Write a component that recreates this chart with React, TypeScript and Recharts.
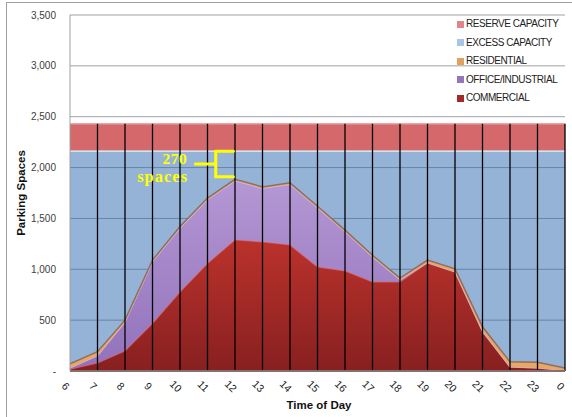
import React from 'react';
import { ComposedChart, Area, XAxis, YAxis, CartesianGrid, ReferenceLine, ReferenceDot } from 'recharts';

const hours = [6, 7, 8, 9, 10, 11, 12, 13, 14, 15, 16, 17, 18, 19, 20, 21, 22, 23, 24];
const commercial = [20, 80, 200, 470, 780, 1060, 1290, 1270, 1240, 1025, 985, 878, 878, 1065, 975, 390, 40, 30, 5];
const office = [10, 70, 280, 605, 625, 625, 580, 525, 595, 580, 385, 245, 20, 0, 0, 0, 0, 0, 0];
const residential = [40, 40, 20, 15, 15, 15, 15, 15, 15, 15, 15, 15, 15, 25, 30, 45, 50, 55, 25];
const effectiveCapacity = 2160;
const totalCapacity = 2430;
const yTicks = [0, 500, 1000, 1500, 2000, 2500, 3000, 3500];

const legendItems = [
  { label: 'RESERVE CAPACITY', color: '#e2858a' },
  { label: 'EXCESS CAPACITY', color: '#aac5e4' },
  { label: 'RESIDENTIAL', color: '#e39f5e' },
  { label: 'OFFICE/INDUSTRIAL', color: '#9576b8' },
  { label: 'COMMERCIAL', color: '#a3282a' },
];

const data = hours.map((h, i) => ({
  hour: h,
  commercial: commercial[i],
  office: office[i],
  residential: residential[i],
  effective: effectiveCapacity,
  reserve: [effectiveCapacity, totalCapacity],
}));

const FONT = '"Liberation Sans", Arial, sans-serif';

const XTick = (props: any) => {
  const { x, y, payload } = props;
  const cx = x - 4;
  const cy = y + 15;
  return (
    <text x={cx} y={cy} transform={`rotate(45 ${cx} ${cy})`} textAnchor="middle" dominantBaseline="central" fontSize={10.5} fill="#1a1a1a" fontFamily={FONT}>
      {String(payload.value % 24)}
    </text>
  );
};

const TextShape = (text: string, size: number, spacing: number) => (props: any) => (
  <text x={props.cx} y={props.cy} textAnchor="middle" fontSize={size} fontWeight="bold" fill="#ffff00" letterSpacing={spacing} fontFamily='"Liberation Serif", "Times New Roman", serif'>
    {text}
  </text>
);

export default function App() {
  const brace = { stroke: '#ffff00', strokeWidth: 3, strokeLinecap: 'round' as const };
  return (
    <div style={{ position: 'absolute', left: 0, top: 0, width: 572, height: 417, background: '#fff', overflow: 'hidden', fontFamily: FONT }}>
      <div style={{ position: 'absolute', left: 6, top: 2, width: 570, height: 430, borderLeft: '1px solid #a0a0a0', borderTop: '1px solid #a0a0a0', borderRight: '1px solid #a0a0a0' }} />
      <ComposedChart width={572} height={417} data={data} margin={{ top: 15, right: 7, bottom: 0, left: 0 }} style={{ position: 'absolute', left: 0, top: 0 }}>
        <defs>
          <linearGradient id="commGrad" x1="0" y1="0" x2="0" y2="1">
            <stop offset="0%" stopColor="#bb322c" />
            <stop offset="100%" stopColor="#872020" />
          </linearGradient>
          <linearGradient id="officeGrad" x1="0" y1="0" x2="0" y2="1">
            <stop offset="0%" stopColor="#b497d4" />
            <stop offset="100%" stopColor="#9272bb" />
          </linearGradient>
        </defs>
        <CartesianGrid vertical={false} stroke="#a0a0a0" strokeWidth={1} />
        <XAxis dataKey="hour" type="number" domain={[6, 24]} ticks={hours} interval={0} height={46} tickLine={false} tickSize={0} tickMargin={0} axisLine={{ stroke: '#857070', strokeWidth: 2 }} tick={<XTick />} allowDataOverflow />
        <YAxis type="number" domain={[0, 3500]} ticks={yTicks} width={70} tickLine={false} tickSize={0} tickMargin={14} axisLine={{ stroke: '#a0a0a0' }} tick={{ fontSize: 10, fill: '#404040', fontFamily: FONT }} tickFormatter={(v: number) => (v === 0 ? '-' : v.toLocaleString('en-US'))} />
        <Area dataKey="reserve" type="linear" fill="#d4686b" fillOpacity={1} stroke="#eda3a6" strokeWidth={1.5} isAnimationActive={false} />
        <Area dataKey="effective" type="linear" fill="#2b67af" fillOpacity={0.5} stroke="#cfe3ea" strokeWidth={1.5} isAnimationActive={false} />
        <Area dataKey="commercial" stackId="d" type="linear" fill="url(#commGrad)" fillOpacity={1} stroke="#dd5650" strokeWidth={1.5} isAnimationActive={false} />
        <Area dataKey="office" stackId="d" type="linear" fill="url(#officeGrad)" fillOpacity={1} stroke="#cdb8e6" strokeWidth={1.2} isAnimationActive={false} />
        <Area dataKey="residential" stackId="d" type="linear" fill="#e8a764" fillOpacity={1} stroke="#8f6e5c" strokeWidth={1.5} isAnimationActive={false} />
        {hours.slice(1).map((h) => (
          <ReferenceLine key={h} segment={[{ x: h, y: 0 }, { x: h, y: totalCapacity }]} stroke="#000" strokeWidth={1.3} />
        ))}
        <ReferenceLine segment={[{ x: 11.3, y: 1910 }, { x: 11.3, y: 2160 }]} {...brace} />
        <ReferenceLine segment={[{ x: 11.3, y: 2160 }, { x: 11.94, y: 2160 }]} {...brace} />
        <ReferenceLine segment={[{ x: 11.3, y: 1910 }, { x: 11.94, y: 1910 }]} {...brace} />
        <ReferenceLine segment={[{ x: 10.56, y: 2035 }, { x: 11.3, y: 2035 }]} {...brace} />
        <ReferenceDot x={9.81} y={2035} r={0} shape={TextShape('270', 15.5, 0.5)} />
        <ReferenceDot x={9.37} y={1861} r={0} shape={TextShape('spaces', 16.5, 1)} />
      </ComposedChart>
      <div style={{ position: 'absolute', left: 22, top: 193, transform: 'translate(-50%, -50%) rotate(-90deg)', fontSize: 11.5, fontWeight: 'bold', color: '#111', whiteSpace: 'nowrap', lineHeight: 1 }}>Parking Spaces</div>
      <div style={{ position: 'absolute', left: 319, top: 406, transform: 'translate(-50%, -50%)', fontSize: 11.5, fontWeight: 'bold', color: '#111', whiteSpace: 'nowrap', lineHeight: 1 }}>Time of Day</div>
      {legendItems.map((item, i) => (
        <div key={item.label} style={{ position: 'absolute', left: 457, top: 24 + i * 18.5, transform: 'translateY(-50%)', display: 'flex', alignItems: 'center', whiteSpace: 'nowrap' }}>
          <div style={{ width: 7, height: 7, background: item.color, marginRight: 2 }} />
          <span style={{ fontSize: 10, letterSpacing: -0.45, color: '#222', lineHeight: 1 }}>{item.label}</span>
        </div>
      ))}
    </div>
  );
}
